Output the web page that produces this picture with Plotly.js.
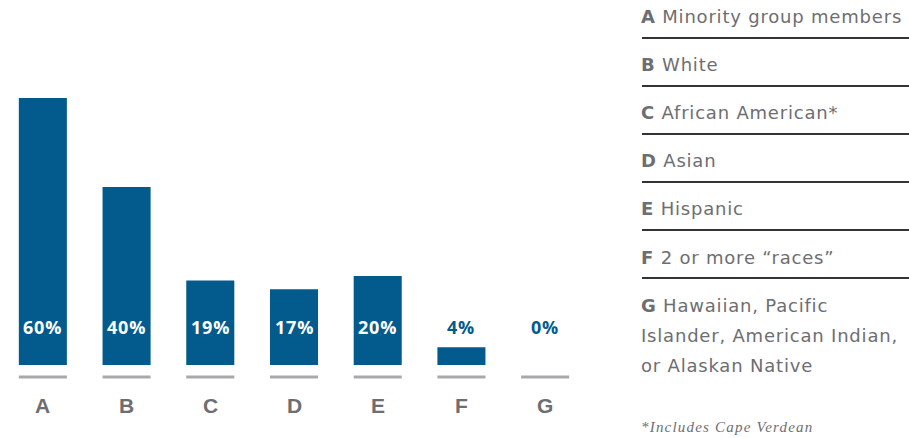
<!DOCTYPE html>
<html>
<head>
<meta charset="utf-8">
<script src="https://cdn.plot.ly/plotly-3.0.1.min.js"></script>
<style>
html,body{margin:0;padding:0;background:#fff;}
#chart{width:909px;height:438px;}
text.annotation-text[style*="DejaVu Sans"]{letter-spacing:0.8px;}
text.annotation-text[style*="Liberation Serif"]{letter-spacing:1.2px;}
text.annotation-text[style*="Open Sans"]{letter-spacing:0.8px;}
</style>
</head>
<body>
<div id="chart"></div>
<script>
// ---- data ----
const categories = ["A", "B", "C", "D", "E", "F", "G"];
const values = [60, 40, 19, 17, 20, 4, 0];
const legendLabels = [
  "Minority group members",
  "White",
  "African American*",
  "Asian",
  "Hispanic",
  "2 or more \u201craces\u201d",
  "Hawaiian, Pacific<br>Islander, American Indian,<br>or Alaskan Native"
];
const footnote = "*Includes Cape Verdean";

// ---- styling / layout ----
const W = 909, H = 438;
const BLUE = "#035b8d";
const GRAY_LINE = "#a7a9ac";
const GRAY_TEXT = "#6d6e71";
const baselinePx = 365;      // pixel y of zero
const pxPerUnit = 4.45;
const py = p => (H - p) / H; // pixel y -> paper y
const px = p => p / W;

const yTop = baselinePx / pxPerUnit;
const labelY = (baselinePx - 327) / pxPerUnit;

const annotations = [];
const shapes = [];

categories.forEach((c, i) => {
  const v = values[i];
  const inside = v >= 10;
  annotations.push({
    x: c, xref: "x", y: labelY, yref: "y",
    text: "<b>" + v + "%</b>", showarrow: false,
    xanchor: "center", yanchor: "middle",
    font: {family: "Open Sans, sans-serif", size: 18, color: inside ? "#ffffff" : BLUE}
  });
  annotations.push({
    x: c, xref: "x", y: py(405), yref: "paper",
    text: "<b>" + c + "</b>", showarrow: false,
    xanchor: "center", yanchor: "middle",
    font: {family: "Liberation Sans, Arial, sans-serif", size: 21, color: GRAY_TEXT}
  });
  shapes.push({
    type: "line", xref: "x", yref: "paper",
    x0: i - 0.287, x1: i + 0.287, y0: py(377), y1: py(377),
    line: {color: GRAY_LINE, width: 3}
  });
});

// right-hand key
const legX = 639;
legendLabels.forEach((lab, i) => {
  const lines = lab.split("<br>");
  lines.forEach((ln, j) => {
    annotations.push({
      x: px(legX), xref: "paper", y: py(17 + 48 * i + 30 * j), yref: "paper",
      text: (j === 0 ? "<b>" + categories[i] + "</b> " : "") + ln,
      showarrow: false, xanchor: "left", yanchor: "middle",
      font: {family: "DejaVu Sans, sans-serif", size: 18, color: GRAY_TEXT}
    });
  });
  if (i < legendLabels.length - 1) {
    shapes.push({
      type: "line", xref: "paper", yref: "paper",
      x0: px(642), x1: 1, y0: py(38 + 48 * i), y1: py(38 + 48 * i),
      line: {color: "#333333", width: 2}
    });
  }
});
annotations.push({
  x: px(legX), xref: "paper", y: py(427), yref: "paper",
  text: "<i>" + footnote + "</i>", showarrow: false,
  xanchor: "left", yanchor: "middle",
  font: {family: "Liberation Serif, serif", size: 15, color: GRAY_TEXT}
});

const trace = {
  type: "bar", x: categories, y: values,
  marker: {color: BLUE}, width: 0.574,
  hoverinfo: "skip", textposition: "none"
};

const layout = {
  width: W, height: H,
  margin: {l: 0, r: 0, t: 0, b: 0, pad: 0},
  paper_bgcolor: "#fff", plot_bgcolor: "#fff",
  showlegend: false,
  xaxis: {domain: [px(1), px(587)], range: [-0.5, 6.5], showgrid: false, zeroline: false,
          showticklabels: false, ticks: "", showline: false, fixedrange: true},
  yaxis: {domain: [py(baselinePx), 1], range: [0, yTop], showgrid: false, zeroline: false,
          showticklabels: false, ticks: "", showline: false, fixedrange: true},
  annotations: annotations,
  shapes: shapes
};

Plotly.newPlot("chart", [trace], layout, {displayModeBar: false, staticPlot: true});
</script>
</body>
</html>
